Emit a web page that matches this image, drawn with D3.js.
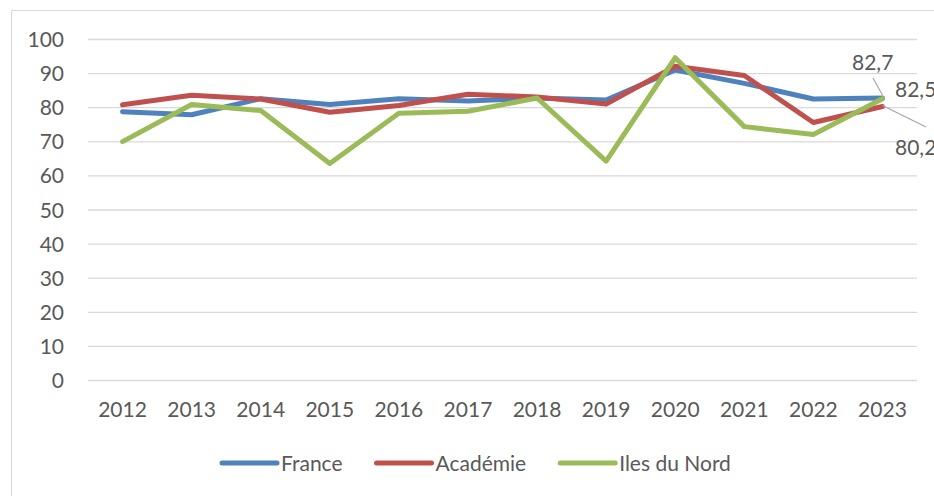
<!DOCTYPE html>
<html>
<head>
<meta charset="utf-8">
<script src="https://cdn.jsdelivr.net/npm/d3@7"></script>
<style>
  html, body { margin: 0; padding: 0; background: #fff; }
  svg { display: block; }
  text { font-family: Lato, "Open Sans", sans-serif; fill: #595959; }
</style>
</head>
<body>
<svg id="chart" width="934" height="496"></svg>
<script>
// Years on the category axis
const years = ["2012","2013","2014","2015","2016","2017","2018","2019","2020","2021","2022","2023"];

// Series values (%)
const france     = [78.7, 77.8, 82.5, 80.8, 82.5, 81.8, 82.7, 82.1, 90.9, 87.0, 82.4, 82.7];
const academie   = [80.7, 83.5, 82.4, 78.5, 80.5, 83.8, 83.0, 80.9, 92.0, 89.3, 75.5, 80.2];
const ilesDuNord = [69.9, 80.8, 79.0, 63.5, 78.2, 78.8, 82.7, 64.2, 94.5, 74.3, 72.0, 82.5];

const seriesNames  = ["France", "Académie", "Iles du Nord"];
const seriesColors = ["#4f81bd", "#c0504d", "#9bbb59"];
const yTicks = [0, 10, 20, 30, 40, 50, 60, 70, 80, 90, 100];

const series = [france, academie, ilesDuNord].map((vals, i) => ({
  name: seriesNames[i], color: seriesColors[i], values: vals
}));

const FONT = "Lato, 'Open Sans', sans-serif";
const svg = d3.select("#chart");

// Outer chart frame
svg.append("rect")
  .attr("x", 11.5).attr("y", 10.5)
  .attr("width", 940).attr("height", 500)
  .attr("fill", "none").attr("stroke", "#d9d9d9").attr("stroke-width", 1);

const plot = { left: 88, right: 917, top: 39, bottom: 380 };

const x = d3.scaleBand().domain(years).range([plot.left, plot.right]);
const y = d3.scaleLinear().domain([0, 100]).range([plot.bottom, plot.top]);
const cx = d => x(d) + x.bandwidth() / 2;

// Horizontal gridlines with value labels
const yAxis = d3.axisLeft(y).tickValues(yTicks).tickSize(-(plot.right - plot.left)).tickPadding(24);
const gy = svg.append("g").attr("transform", `translate(${plot.left},0)`).call(yAxis);
gy.select(".domain").remove();
gy.selectAll(".tick line").attr("stroke", "#d9d9d9").attr("stroke-width", 1.3);
gy.selectAll(".tick text")
  .attr("font-size", 21).attr("font-family", FONT)
  .attr("fill", "#595959").attr("dy", "0.36em");

// Category labels
const xAxis = d3.axisBottom(x).tickSize(0).tickPadding(22);
const gx = svg.append("g").attr("transform", `translate(0,${plot.bottom})`).call(xAxis);
gx.select(".domain").remove();
gx.selectAll(".tick text")
  .attr("font-size", 21).attr("font-family", FONT)
  .attr("fill", "#595959");

// Series lines
const line = d3.line().x((d, i) => cx(years[i])).y(d => y(d));
svg.append("g").selectAll("path").data(series).join("path")
  .attr("d", s => line(s.values))
  .attr("fill", "none")
  .attr("stroke", s => s.color)
  .attr("stroke-width", 5)
  .attr("stroke-linejoin", "round")
  .attr("stroke-linecap", "round");

// Value labels on the final year, with leader lines
const fmt = v => d3.format(".1f")(v).replace(".", ",");
const last = years.length - 1;
const px = cx(years[last]);
const labels = [
  { v: france[last],     tx: 852, ty: 69.5, leader: [[873, 78], [px, y(france[last]) - 3]] },
  { v: ilesDuNord[last], tx: 895, ty: 96.5, leader: null },
  { v: academie[last],   tx: 895, ty: 154.5, leader: [[px, y(academie[last]) - 1], [926, 127]] }
];
const gl = svg.append("g");
labels.forEach(l => {
  if (l.leader) {
    gl.append("line")
      .attr("x1", l.leader[0][0]).attr("y1", l.leader[0][1])
      .attr("x2", l.leader[1][0]).attr("y2", l.leader[1][1])
      .attr("stroke", "#a6a6a6").attr("stroke-width", 1.2);
  }
  gl.append("text")
    .attr("x", l.tx).attr("y", l.ty)
    .attr("font-size", 21)
    .attr("fill", "#404040")
    .text(fmt(l.v));
});

// Legend
const legend = svg.append("g").attr("transform", "translate(0,463)");
const items = legend.selectAll("g").data(series).join("g");
items.append("line")
  .attr("x1", 0).attr("x2", 55).attr("y1", 0).attr("y2", 0)
  .attr("stroke", s => s.color).attr("stroke-width", 5).attr("stroke-linecap", "round");
items.append("text")
  .attr("x", 59).attr("dy", "0.36em")
  .attr("font-size", 21)
  .text(s => s.name);

// Lay out legend entries side by side
const gap = 34;
const widths = [];
items.each(function () { widths.push(this.getBBox().width); });
let start = 222;
items.attr("transform", (d, i) => {
  const t = `translate(${start},0)`;
  start += widths[i] + gap;
  return t;
});
</script>
</body>
</html>
